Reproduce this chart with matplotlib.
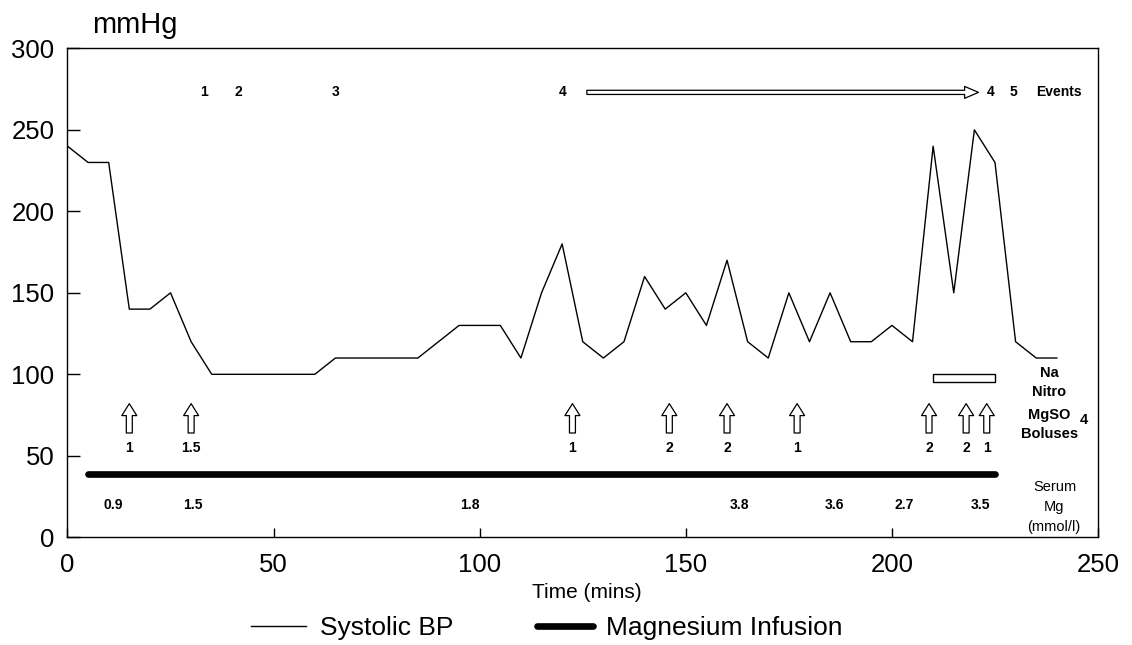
import matplotlib
matplotlib.use("Agg")
import matplotlib.pyplot as plt
from matplotlib.lines import Line2D
from matplotlib.patches import Rectangle

plt.rcParams["font.family"] = ["Liberation Sans", "DejaVu Sans"]

# systolic blood pressure trace
time = [0, 5, 10, 15, 20, 25, 30, 35, 40, 45, 50, 55, 60, 65, 70, 75, 80, 85,
        90, 95, 100, 105, 110, 115, 120, 125, 130, 135, 140, 145, 150, 155,
        160, 165, 170, 175, 180, 185, 190, 195, 200, 205, 210, 215, 220, 225,
        230, 235, 240]
sbp = [240, 230, 230, 140, 140, 150, 120, 100, 100, 100, 100, 100, 100, 110,
       110, 110, 110, 110, 120, 130, 130, 130, 110, 150, 180, 120, 110, 120,
       160, 140, 150, 130, 170, 120, 110, 150, 120, 150, 120, 120, 130, 120,
       240, 150, 250, 230, 120, 110, 110]

# events row
event_times = [33, 41.5, 65, 120, 224, 229.5]
event_labels = ["1", "2", "3", "4", "4", "5"]
event_arrow = (126, 221)

# MgSO4 boluses
bolus_times = [15, 30, 122.5, 146, 160, 177, 209, 218, 223]
bolus_doses = ["1", "1.5", "1", "2", "2", "1", "2", "2", "1"]

# serum Mg (mmol/l)
serum_times = [11, 30.5, 97.5, 163, 186, 203, 221.5]
serum_values = ["0.9", "1.5", "1.8", "3.8", "3.6", "2.7", "3.5"]

# infusion and nitroprusside periods
infusion = (5, 225)
nitro = (210, 225)

fig = plt.figure(figsize=(11.32, 6.45), dpi=100)
ax = fig.add_axes([0.0596, 0.167, 0.9104, 0.758])

ax.plot(time, sbp, color="black", lw=1)
ax.plot(infusion, [39, 39], color="black", lw=4.8, solid_capstyle="round")

# Na nitro bar
ax.add_patch(Rectangle((nitro[0], 95), nitro[1] - nitro[0], 5,
                       fc="white", ec="black", lw=1))

small = dict(fontsize=10, fontweight="bold", ha="center", va="center")

# events
for t, lab in zip(event_times, event_labels):
    ax.text(t, 273, lab, **small)
ax.text(240.4, 273, "Events", **small)
ax.annotate("", xy=(event_arrow[1], 273), xytext=(event_arrow[0], 273),
            arrowprops=dict(arrowstyle="simple,head_length=1.0,head_width=0.86,tail_width=0.3",
                            fc="white", ec="black", lw=0.9, shrinkA=0, shrinkB=0,
                            mutation_scale=10))

# bolus arrows
for t, d in zip(bolus_times, bolus_doses):
    ax.annotate("", xy=(t, 82), xytext=(t, 64),
                arrowprops=dict(arrowstyle="simple,head_length=0.86,head_width=1.08,tail_width=0.43",
                                fc="white", ec="black", lw=0.9, shrinkA=0, shrinkB=0,
                                mutation_scale=10))
    ax.text(t, 54.6, d, **small)

for t, v in zip(serum_times, serum_values):
    ax.text(t, 20, v, **small)

# right-hand labels
side = dict(fontsize=10.5, fontweight="bold", ha="center", va="center")
ax.text(238.3, 100.6, "Na", **side)
ax.text(238.2, 89.3, "Nitro", **side)
ax.text(238.2, 75, "MgSO", **side)
ax.text(246.5, 72, "4", **side)
ax.text(238.2, 63.2, "Boluses", **side)
ax.text(239.5, 31, "Serum", fontsize=10.5, ha="center", va="center")
ax.text(239.3, 18.8, "Mg", fontsize=10.5, ha="center", va="center")
ax.text(239.3, 6.5, "(mmol/l)", fontsize=10.5, ha="center", va="center")

ax.set_xlim(0, 250)
ax.set_ylim(0, 300)
ax.set_xticks([0, 50, 100, 150, 200, 250])
ax.set_yticks([0, 50, 100, 150, 200, 250, 300])
ax.tick_params(axis="x", direction="in", length=6.5, width=1, pad=11, labelsize=18.5)
ax.tick_params(axis="y", direction="in", length=9.5, width=1, pad=9.5, labelsize=18.5)
for s in ax.spines.values():
    s.set_linewidth(1)

fig.text(0.119, 0.962, "mmHg", fontsize=21, ha="center", va="center")
fig.text(0.518, 0.081, "Time (mins)", fontsize=15, ha="center", va="center")

handles = [Line2D([], [], color="black", lw=1),
           Line2D([], [], color="black", lw=4.8, solid_capstyle="round")]
fig.legend(handles, ["Systolic BP", "Magnesium Infusion"], loc="center",
           bbox_to_anchor=(0.483, 0.026), ncol=2, frameon=False, fontsize=19,
           handlelength=2.1, handletextpad=0.5, columnspacing=3.2)

fig.savefig("out.png", dpi=100)
